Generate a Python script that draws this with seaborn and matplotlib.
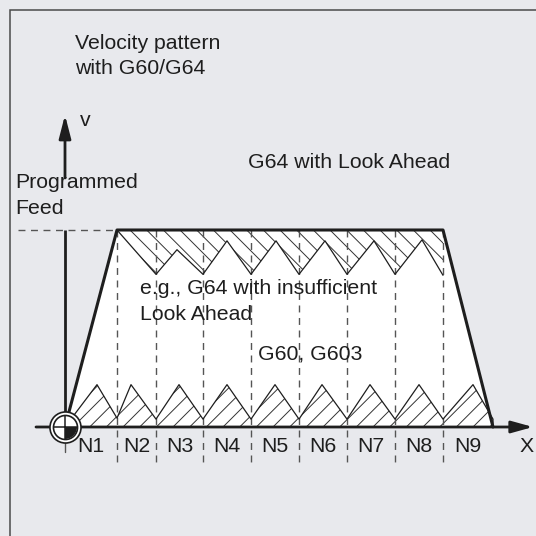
import matplotlib
matplotlib.use('Agg')
import matplotlib.pyplot as plt
from matplotlib.path import Path
from matplotlib.patches import Rectangle
import seaborn as sns

# distance along the path (origin = 0) and velocity (programmed feed = 1.0)
block_labels = ['N1', 'N2', 'N3', 'N4', 'N5', 'N6', 'N7', 'N8', 'N9']
block_edges = [0, 52, 91, 138, 186, 234, 282, 330, 378, 428]

# G64 with Look Ahead (trapezoid)
lookahead_s = [0, 52, 378, 428]
lookahead_v = [0, 1.0, 1.0, 0]

# G64 with insufficient Look Ahead
g64_s = [52, 91, 112, 138, 162, 186, 211, 234, 260, 282, 309, 330, 357, 378]
g64_v = [1.0, 0.775, 0.90, 0.775, 0.945, 0.775, 0.945, 0.775, 0.945,
         0.775, 0.945, 0.775, 0.95, 0.77]

# G60, G603
g60_s = [0, 32, 52, 66, 91, 114, 138, 162, 186, 210, 234, 257, 282, 305,
         330, 354, 378, 408, 428, 428]
g60_v = [0, 0.215, 0.045, 0.215, 0.04, 0.215, 0.04, 0.215, 0.04, 0.215,
         0.04, 0.215, 0.04, 0.215, 0.04, 0.215, 0.04, 0.215, 0.04, 0]

bg = '#e8e9ed'
ink = '#1e1e1e'

sns.set_style('white')
plt.rcParams['font.family'] = ['Liberation Sans', 'DejaVu Sans']
plt.rcParams['hatch.linewidth'] = 0.7

fig = plt.figure(figsize=(5.36, 5.36), dpi=100)
fig.patch.set_facecolor(bg)
ax = fig.add_axes([0, 0, 1, 1])
ax.set_facecolor(bg)
ax.set_xlim(-65, 471)
ax.set_ylim(-109 / 197, 427 / 197)
ax.axis('off')

# frame
fig.patches.append(Rectangle((10 / 536, -0.5), 2, 1 - 10 / 536 + 0.5,
                             transform=fig.transFigure, fill=False,
                             ec='#4a4a4a', lw=1.1))

# white area under the look-ahead profile
ax.fill(lookahead_s, lookahead_v, color='white', lw=0, zorder=1)

# hatched areas
ax.fill_between(g64_s, g64_v, 1.0, facecolor='none', edgecolor='#333333',
                hatch='\\\\', lw=0, zorder=2)
ax.fill_between(g60_s, 0, g60_v, facecolor='none', edgecolor='#333333',
                hatch='//', lw=0, zorder=2)

# block boundaries
for s in block_edges[1:-1]:
    ax.plot([s, s], [1.0, -0.193], color='#555555', lw=1.0,
            ls=(0, (5, 4)), zorder=3)
ax.plot([0, 0], [0, -0.125], color='#555555', lw=1.0, zorder=3)
ax.plot([-47, block_edges[1]], [1.0, 1.0], color='#555555', lw=1.0,
        ls=(0, (5, 4)), zorder=3)

# velocity curves
sns.lineplot(x=g64_s, y=g64_v, sort=False, estimator=None, color=ink,
             lw=0.9, ax=ax, zorder=4)
sns.lineplot(x=g60_s, y=g60_v, sort=False, estimator=None, color=ink,
             lw=0.9, ax=ax, zorder=4)
sns.lineplot(x=lookahead_s, y=lookahead_v, sort=False, estimator=None,
             color=ink, lw=2.2, ax=ax, zorder=5)

# axes with arrows
ax.plot([0, 0], [0, 1.0], color=ink, lw=2.0, zorder=6, solid_capstyle='butt')
ax.annotate('', xy=(0, 1.584), xytext=(0, 1.264),
            arrowprops=dict(arrowstyle='-|>,head_length=14,head_width=3.6',
                            mutation_scale=1, lw=2.0, color=ink,
                            shrinkA=0, shrinkB=0), zorder=6)
ax.annotate('', xy=(468, 0), xytext=(-29, 0),
            arrowprops=dict(arrowstyle='-|>,head_length=13,head_width=3.6',
                            mutation_scale=1, lw=2.0, color=ink,
                            shrinkA=0, shrinkB=0), zorder=6)

# machine zero symbol
ax.scatter([0], [0], s=500, facecolor='white', edgecolor=ink, lw=1.2, zorder=7)
ax.scatter([0], [0], s=300, facecolor='white', edgecolor=ink, lw=1.2, zorder=8)
ax.scatter([0], [0], s=300, marker=Path.wedge(270, 360), facecolor=ink,
           edgecolor='none', lw=0, zorder=9)
ax.scatter([0], [0], s=300, marker='+', color=ink, lw=1.1, zorder=10)

# texts
fs = 15.3
txt = dict(fontsize=fs, color=ink, va='baseline', zorder=11)
ax.text(10, 1.919, 'Velocity pattern', **txt)
ax.text(10, 1.792, 'with G60/G64', **txt)
ax.text(15, 1.528, 'v', **txt)
ax.text(183, 1.317, 'G64 with Look Ahead', **txt)
ax.text(-49.6, 1.213, 'Programmed', **txt)
ax.text(-49.6, 1.083, 'Feed', **txt)
ax.text(75, 0.675, 'e.g., G64 with insufficient', **txt)
ax.text(75, 0.545, 'Look Ahead', **txt)
ax.text(193, 0.342, 'G60, G603', **txt)
for i, lab in enumerate(block_labels):
    mid = (block_edges[i] + block_edges[i + 1]) / 2
    ax.text(mid, -0.127, lab, ha='center', **txt)
ax.text(469, -0.127, 'X', ha='right', **txt)

fig.savefig('out.png', dpi=100, facecolor=bg)
